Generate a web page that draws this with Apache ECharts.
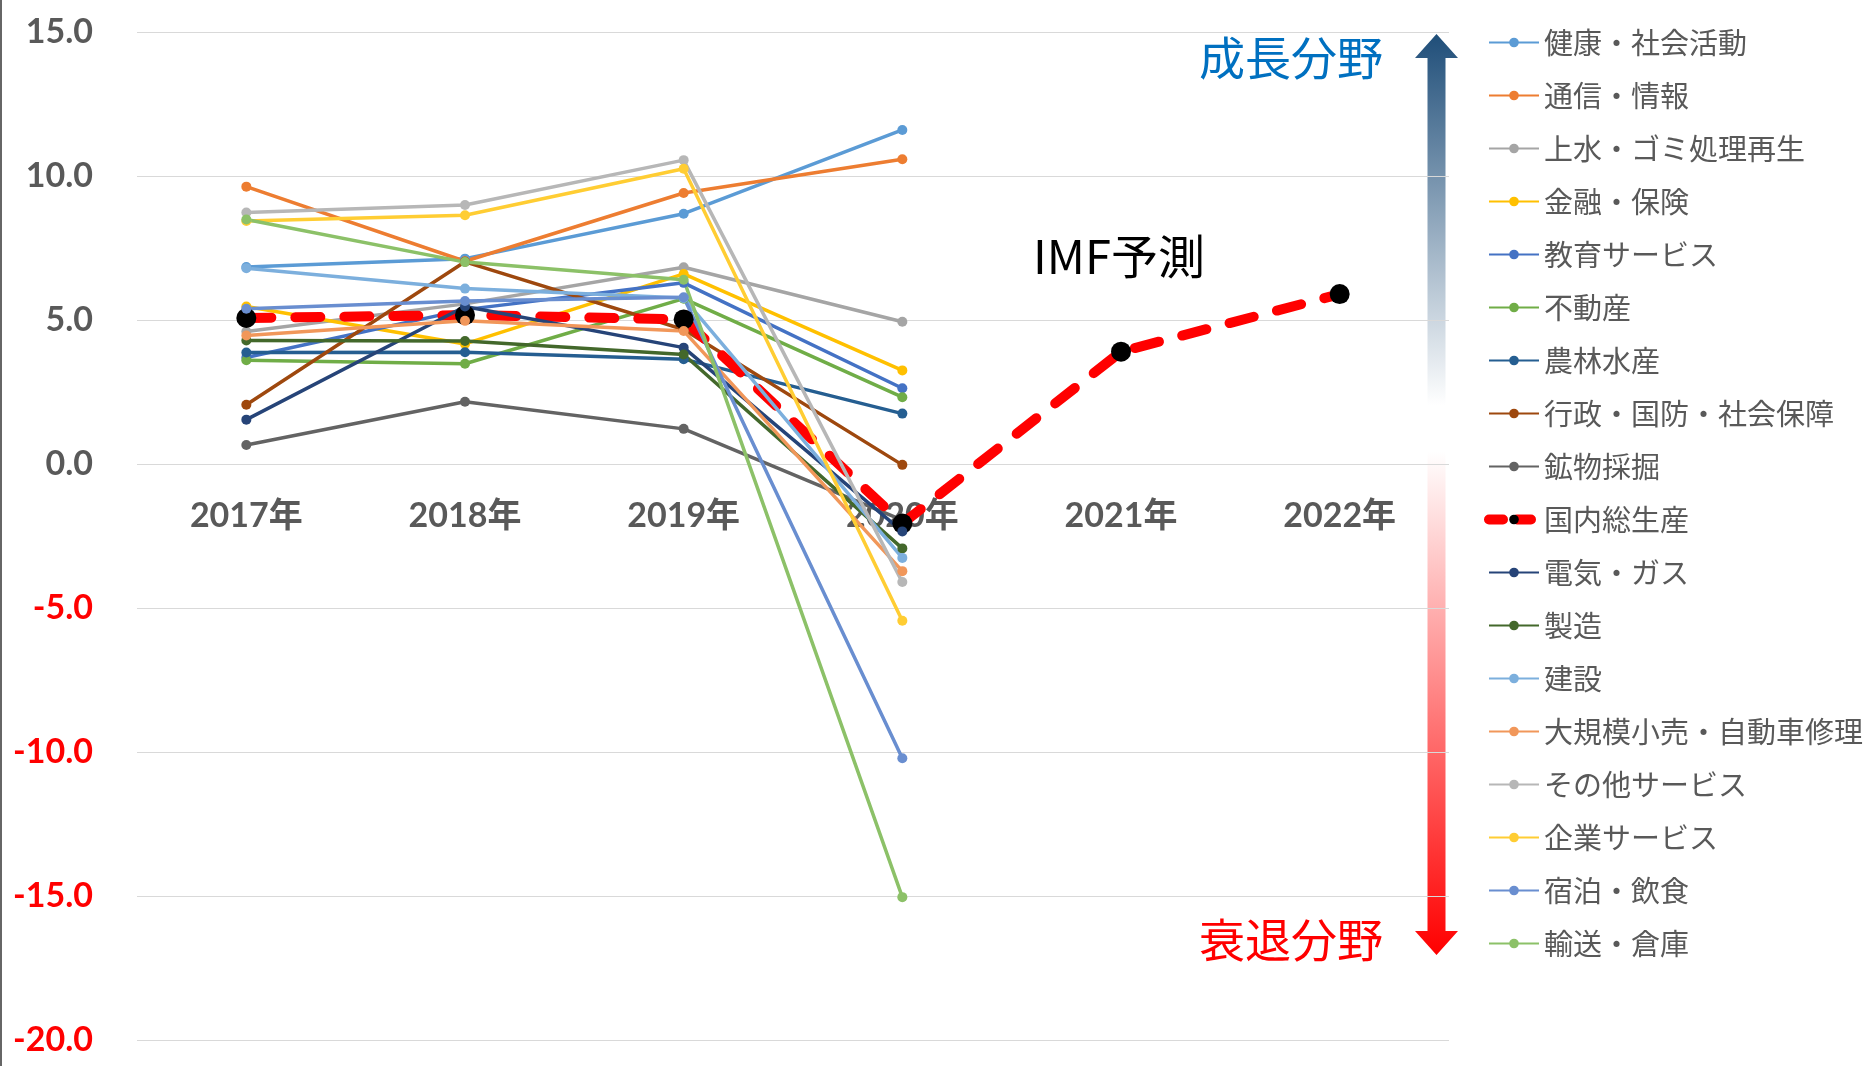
<!DOCTYPE html>
<html>
<head>
<meta charset="utf-8">
<script src="https://cdn.jsdelivr.net/npm/echarts@6/dist/echarts.min.js"></script>
<style>
html,body{margin:0;padding:0;background:#fff;}
#chart{width:1864px;height:1066px;}
</style>
</head>
<body>
<div id="chart"></div>
<script>
// ---- data ----
const categories = ['2017年', '2018年', '2019年', '2020年', '2021年', '2022年'];
const yTicks = [-20, -15, -10, -5, 0, 5, 10, 15];

const health       = [6.84, 7.13, 8.69, 11.60];
const infoComm     = [9.63, 7.04, 9.41, 10.58];
const waterWaste   = [4.60, 5.56, 6.83, 4.94];
const finance      = [5.47, 4.17, 6.60, 3.25];
const education    = [3.70, 5.36, 6.29, 2.63];
const realEstate   = [3.60, 3.48, 5.74, 2.32];
const agriculture  = [3.87, 3.88, 3.64, 1.75];
const publicAdmin  = [2.06, 7.02, 4.67, -0.03];
const mining       = [0.66, 2.16, 1.22, -1.95];
const gdp          = [5.07, 5.17, 5.02, -2.07, 3.9, 5.9];
const electricity  = [1.54, 5.47, 4.04, -2.34];
const manufacturing= [4.29, 4.27, 3.80, -2.93];
const construction = [6.80, 6.09, 5.76, -3.26];
const retail       = [4.46, 4.97, 4.62, -3.72];
const otherService = [8.73, 8.99, 10.55, -4.10];
const bizService   = [8.44, 8.64, 10.25, -5.44];
const accommodation= [5.39, 5.66, 5.79, -10.22];
const transport    = [8.49, 7.01, 6.40, -15.04];

const names = ['健康・社会活動', '通信・情報', '上水・ゴミ処理再生', '金融・保険', '教育サービス', '不動産',
  '農林水産', '行政・国防・社会保障', '鉱物採掘', '国内総生産', '電気・ガス', '製造', '建設',
  '大規模小売・自動車修理', 'その他サービス', '企業サービス', '宿泊・飲食', '輸送・倉庫'];
const values = [health, infoComm, waterWaste, finance, education, realEstate, agriculture, publicAdmin,
  mining, gdp, electricity, manufacturing, construction, retail, otherService, bizService, accommodation, transport];
const colors = ['#5B9BD5', '#ED7D31', '#A5A5A5', '#FFC000', '#4472C4', '#70AD47', '#255E91', '#9E480E',
  '#636363', '#FF0000', '#264478', '#43682B', '#7CAFDD', '#F1975A', '#B7B7B7', '#FFCD33', '#698ED0', '#8CC168'];

// ---- chart ----
const chart = echarts.init(document.getElementById('chart'), null, {renderer: 'canvas'});
const GDP_NAME = '国内総生産';
const GRID_TOP = 32, GRID_BOTTOM = 26, H = 1066;
const yMin = yTicks[0], yMax = yTicks[yTicks.length - 1];
const plotH = H - GRID_TOP - GRID_BOTTOM;
const zeroOffset = -plotH * (0 - yMin) / (yMax - yMin);

const series = names.map((n, i) => {
  if (n === GDP_NAME) {
    return {
      name: n, type: 'line', data: values[i],
      symbol: 'circle', symbolSize: 20,
      itemStyle: {color: '#000000'},
      lineStyle: {color: '#FF0000', width: 10, type: [25, 24], cap: 'round'},
      emphasis: {disabled: true}, z: 3
    };
  }
  return {
    name: n, type: 'line', data: values[i],
    symbol: 'circle', symbolSize: 10,
    itemStyle: {color: colors[i]},
    lineStyle: {color: colors[i], width: 3.5},
    emphasis: {disabled: true}, z: 3
  };
});

const legendData = names.map((n) => {
  if (n === GDP_NAME) {
    return {name: n, lineStyle: {color: '#FF0000', width: 10, type: [14, 14], cap: 'round'}, itemStyle: {color: '#000'}};
  }
  return {name: n};
});

const blueGrad = new echarts.graphic.LinearGradient(0, 0, 0, 1, [
  {offset: 0, color: '#1F4E79'}, {offset: 1, color: '#FFFFFF'}]);
const redGrad = new echarts.graphic.LinearGradient(0, 0, 0, 1, [
  {offset: 0, color: '#FFFFFF'}, {offset: 1, color: '#FF0000'}]);

const option = {
  animation: false,
  backgroundColor: '#ffffff',
  color: colors,
  grid: {left: 137, right: 415, top: GRID_TOP, bottom: GRID_BOTTOM, containLabel: false, outerBoundsMode: 'none'},
  legend: {
    orient: 'vertical', left: 1484, top: 28, padding: 0,
    itemWidth: 50, itemHeight: 12, itemGap: 24,
    selectedMode: false,
    textStyle: {fontSize: 29, lineHeight: 29, color: '#595959', fontFamily: "'Noto Sans CJK JP', sans-serif"},
    data: legendData
  },
  xAxis: {
    type: 'category', data: categories, boundaryGap: true,
    position: 'bottom', offset: zeroOffset,
    axisLine: {show: false, onZero: false},
    axisTick: {show: false},
    axisLabel: {margin: 35, fontSize: 34, fontWeight: 'bold', color: '#595959',
      fontFamily: "Lato, 'Noto Sans CJK JP', sans-serif"},
    splitLine: {show: false}
  },
  yAxis: {
    type: 'value', min: yMin, max: yMax, interval: 5,
    axisLine: {show: false}, axisTick: {show: false},
    splitLine: {lineStyle: {color: '#D9D9D9', width: 1}},
    axisLabel: {
      margin: 44, fontSize: 34, fontWeight: 'bold',
      fontFamily: "Lato, 'Noto Sans CJK JP', sans-serif",
      formatter: v => v.toFixed(1),
      color: v => (Number(v) < 0 ? '#FF0000' : '#595959')
    }
  },
  series: series,
  graphic: [
    {type: 'line', shape: {x1: 1, y1: 0, x2: 1, y2: 1066}, style: {stroke: '#333333', lineWidth: 1.5}, silent: true},
    {type: 'polygon', silent: true, shape: {points: [[1436.5, 34], [1458, 58], [1445.5, 58], [1445.5, 405],
      [1427.5, 405], [1427.5, 58], [1415, 58]]}, style: {fill: blueGrad}},
    {type: 'polygon', silent: true, shape: {points: [[1427.5, 452], [1445.5, 452], [1445.5, 931], [1458, 931],
      [1436.5, 955], [1415, 931], [1427.5, 931]]}, style: {fill: redGrad}},
    {type: 'text', silent: true, left: 1199, top: 57.5 - 23, style: {text: '成長分野', fill: '#0070C0',
      font: "46px 'Noto Sans CJK JP'"}},
    {type: 'text', silent: true, left: 1199, top: 940 - 23, style: {text: '衰退分野', fill: '#FF0000',
      font: "46px 'Noto Sans CJK JP'"}},
    {type: 'text', silent: true, left: 1033, top: 257 - 24, style: {text: 'IMF予測', fill: '#000000',
      font: "47px 'Noto Sans CJK JP'"}}
  ]
};
chart.setOption(option);
</script>
</body>
</html>
